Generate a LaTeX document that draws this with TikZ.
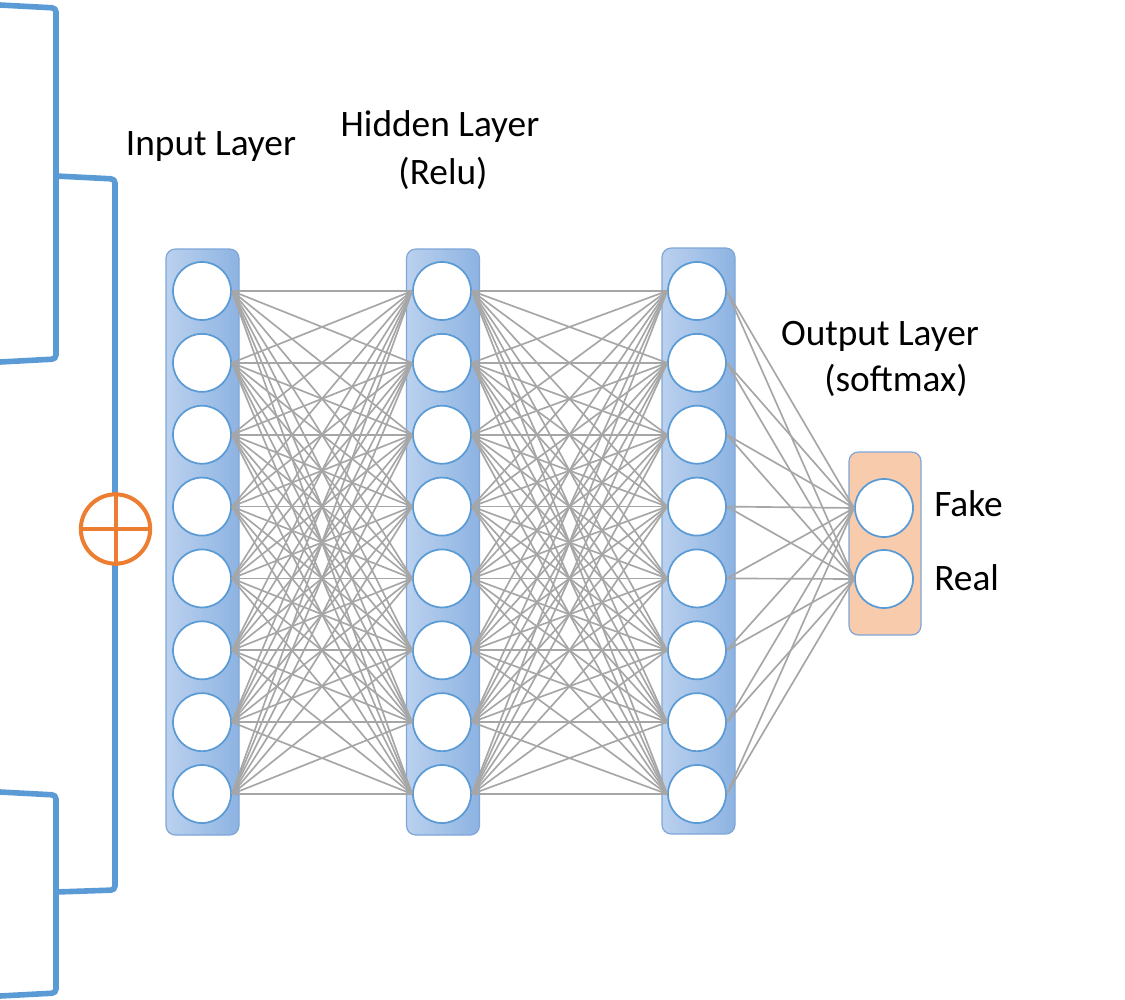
\documentclass[tikz,border=0pt]{standalone}
\usepackage{fontspec}
\setmainfont{Carlito}
\definecolor{brk}{HTML}{5B9BD5}
\definecolor{plusc}{HTML}{ED7D31}
\definecolor{edgec}{HTML}{A6A6A6}
\definecolor{colL}{HTML}{BBD1EE}
\definecolor{colR}{HTML}{8DB3E2}
\definecolor{colB}{HTML}{7EA6D8}
\definecolor{circB}{HTML}{5B9BD5}
\definecolor{outF}{HTML}{F8CBAD}
\begin{document}
\begin{tikzpicture}[x=0.75pt,y=-0.75pt,
  bracket/.style={draw=brk,line width=4.2pt,rounded corners=3pt},
  colbox/.style={draw=colB,line width=0.9pt,rounded corners=7pt,left color=colL,right color=colR,minimum width=54.75pt,minimum height=439.5pt,inner sep=0pt},
  outbox/.style={draw=colB,line width=0.9pt,rounded corners=7pt,fill=outF,minimum width=54pt,minimum height=137.25pt,inner sep=0pt},
  neuron/.style={circle,draw=circB,line width=1.3pt,fill=white,minimum size=43.5pt,inner sep=0pt},
  wire/.style={draw=edgec,line width=1.25pt},
  lbl/.style={font=\fontsize{28}{33}\selectfont,inner sep=0pt}]
\useasboundingbox (0,0) rectangle (1125,1000);
% brackets
\draw[bracket] (0,5) -- (56,8) -- (56,359) -- (0,362);
\draw[bracket] (56,176) -- (115,179) -- (115,890) -- (56,892);
\draw[bracket] (0,792) -- (56,795) -- (56,993) -- (0,996);
% circle plus
\node[circle,draw=plusc,line width=3pt,fill=white,minimum size=52pt,inner sep=0pt] (plus) at (115.5,529) {};
\draw[plusc,line width=3pt] (plus.north) -- (plus.south) (plus.west) -- (plus.east);
% column boxes
\node[colbox] (c1) at (202.5,542) {};
\node[colbox] (c2) at (443,542) {};
\node[colbox] (c3) at (698.5,541) {};
\node[outbox] (c4) at (885,543.5) {};
% neurons
\foreach \i in {1,...,8}{
  \pgfmathsetmacro{\yy}{291+71.86*(\i-1)}
  \node[neuron] (a\i) at (202,\yy) {};
  \node[neuron] (b\i) at (442,\yy) {};
  \node[neuron] (g\i) at (697,\yy) {};
}
\node[neuron] (o1) at (884,508) {};
\node[neuron] (o2) at (884,579) {};
% connections
\foreach \i in {1,...,8}{
  \foreach \j in {1,...,8}{
    \draw[wire] (a\i.east) -- (b\j.west);
    \draw[wire] (b\i.east) -- (g\j.west);
  }
  \draw[wire] (g\i.east) -- (o1.west);
  \draw[wire] (g\i.east) -- (o2.west);
}
% labels
\node[lbl] (tin) at (211,147) {Input Layer};
\node[lbl] (thid) at (440,127) {Hidden Layer};
\node[lbl] (trelu) at (443,173) {(Relu)};
\node[lbl] (tout) at (880,336) {Output Layer};
\node[lbl] (tsoft) at (896,380) {(softmax)};
\node[lbl,anchor=west] (tfake) at (934,504) {Fake};
\node[lbl,anchor=west] (treal) at (934,578) {Real};
\end{tikzpicture}
\end{document}
